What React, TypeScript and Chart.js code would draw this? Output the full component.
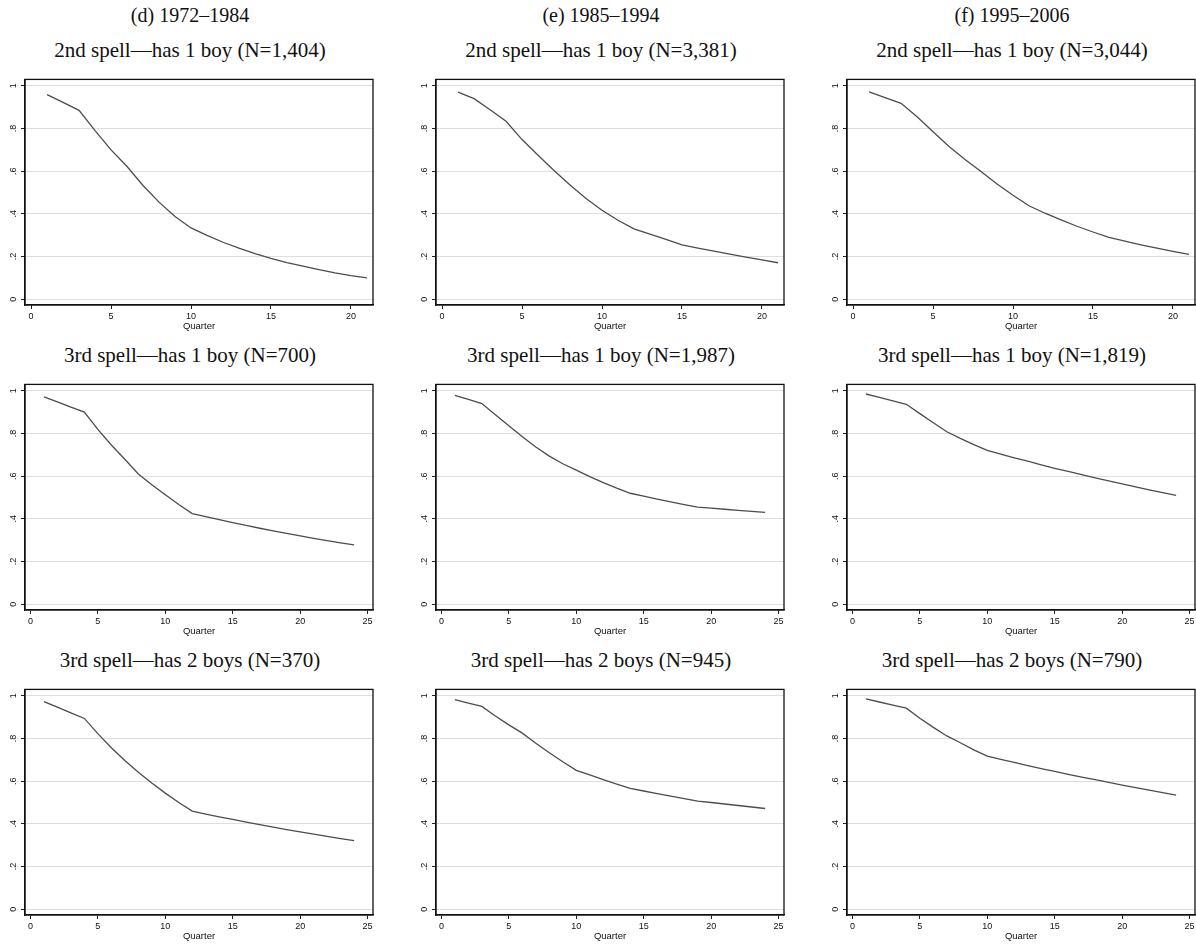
import React, { useEffect, useRef } from 'react';
import { Chart, registerables } from 'chart.js';

Chart.register(...registerables);

// ---------- data ----------
const columnHeaders = ['(d) 1972–1984', '(e) 1985–1994', '(f) 1995–2006'];

const panelTitles = [
  ['2nd spell—has 1 boy (N=1,404)', '2nd spell—has 1 boy (N=3,381)', '2nd spell—has 1 boy (N=3,044)'],
  ['3rd spell—has 1 boy (N=700)', '3rd spell—has 1 boy (N=1,987)', '3rd spell—has 1 boy (N=1,819)'],
  ['3rd spell—has 2 boys (N=370)', '3rd spell—has 2 boys (N=945)', '3rd spell—has 2 boys (N=790)'],
];

const quarters21 = [1, 2, 3, 4, 5, 6, 7, 8, 9, 10, 11, 12, 13, 14, 15, 16, 17, 18, 19, 20, 21];
const quarters24 = [1, 2, 3, 4, 5, 6, 7, 8, 9, 10, 11, 12, 13, 14, 15, 16, 17, 18, 19, 20, 21, 22, 23, 24];

const xTicks21 = [0, 5, 10, 15, 20];
const xTicks25 = [0, 5, 10, 15, 20, 25];
const yTicks = [0, 0.2, 0.4, 0.6, 0.8, 1];
const yTickLabels = ['0', '.2', '.4', '.6', '.8', '1'];
const xAxisTitle = 'Quarter';

// row 1: 2nd spell, has 1 boy
const spell2Boy1_7284 = [0.959, 0.922, 0.885, 0.79, 0.7, 0.622, 0.533, 0.455, 0.388, 0.334, 0.299, 0.267, 0.239, 0.214, 0.192, 0.172, 0.155, 0.139, 0.124, 0.111, 0.1];
const spell2Boy1_8594 = [0.97, 0.94, 0.888, 0.834, 0.748, 0.675, 0.603, 0.535, 0.472, 0.417, 0.37, 0.33, 0.305, 0.28, 0.255, 0.24, 0.225, 0.211, 0.197, 0.184, 0.171];
const spell2Boy1_9506 = [0.972, 0.945, 0.918, 0.855, 0.785, 0.716, 0.655, 0.598, 0.54, 0.487, 0.438, 0.403, 0.372, 0.342, 0.315, 0.29, 0.272, 0.255, 0.239, 0.224, 0.21];

// row 2: 3rd spell, has 1 boy
const spell3Boy1_7284 = [0.972, 0.948, 0.924, 0.9, 0.819, 0.746, 0.679, 0.61, 0.56, 0.513, 0.467, 0.425, 0.41, 0.396, 0.382, 0.369, 0.356, 0.344, 0.332, 0.32, 0.309, 0.298, 0.288, 0.278];
const spell3Boy1_8594 = [0.978, 0.96, 0.94, 0.888, 0.836, 0.785, 0.737, 0.694, 0.658, 0.628, 0.598, 0.57, 0.544, 0.52, 0.506, 0.493, 0.48, 0.467, 0.455, 0.45, 0.445, 0.44, 0.435, 0.43];
const spell3Boy1_9506 = [0.985, 0.969, 0.953, 0.937, 0.893, 0.85, 0.808, 0.777, 0.748, 0.721, 0.703, 0.686, 0.67, 0.653, 0.637, 0.622, 0.607, 0.592, 0.578, 0.564, 0.55, 0.536, 0.523, 0.51];

// row 3: 3rd spell, has 2 boys
const spell3Boys2_7284 = [0.973, 0.947, 0.92, 0.894, 0.823, 0.757, 0.697, 0.642, 0.591, 0.544, 0.5, 0.46, 0.446, 0.433, 0.421, 0.408, 0.396, 0.385, 0.373, 0.362, 0.352, 0.341, 0.331, 0.321];
const spell3Boys2_8594 = [0.982, 0.966, 0.95, 0.905, 0.864, 0.825, 0.778, 0.733, 0.691, 0.651, 0.629, 0.607, 0.586, 0.566, 0.554, 0.542, 0.53, 0.518, 0.507, 0.5, 0.493, 0.486, 0.479, 0.472];
const spell3Boys2_9506 = [0.986, 0.971, 0.956, 0.942, 0.895, 0.852, 0.812, 0.78, 0.747, 0.717, 0.702, 0.688, 0.673, 0.659, 0.646, 0.632, 0.619, 0.607, 0.594, 0.582, 0.57, 0.558, 0.546, 0.535];

const seriesGrid = [
  [spell2Boy1_7284, spell2Boy1_8594, spell2Boy1_9506],
  [spell3Boy1_7284, spell3Boy1_8594, spell3Boy1_9506],
  [spell3Boys2_7284, spell3Boys2_8594, spell3Boys2_9506],
];

// ---------- layout ----------
const FRAME_LEFT = [25, 436, 847];
const FRAME_TOP = [72, 377, 682];
const FRAME_W = 348;
const FRAME_H = 233;
const Y_AXIS_W = 25;
const X_AXIS_H = 32;
const PAD_TOP = 2;
const PAD_RIGHT = 8;
const CANVAS_W = Y_AXIS_W + FRAME_W + PAD_RIGHT;
const CANVAS_H = PAD_TOP + FRAME_H + X_AXIS_H;

const SANS = 'Liberation Sans, Arial, sans-serif';
const SERIF = '"Liberation Serif", "Times New Roman", serif';

const framePlugin = {
  id: 'stataFrame',
  afterDatasetsDraw(chart: any) {
    const { ctx, chartArea: a } = chart;
    ctx.save();
    ctx.strokeStyle = '#111';
    ctx.lineWidth = 1.3;
    ctx.strokeRect(a.left, a.top, a.right - a.left, a.bottom - a.top);
    ctx.restore();
  },
};

function Panel({ row, col }: { row: number; col: number }) {
  const ref = useRef<HTMLCanvasElement | null>(null);

  useEffect(() => {
    if (!ref.current) return;
    const xs = row === 0 ? quarters21 : quarters24;
    const ys = seriesGrid[row][col];
    const xTicks = row === 0 ? xTicks21 : xTicks25;
    const chart = new Chart(ref.current, {
      type: 'line',
      data: {
        datasets: [
          {
            data: xs.map((x, i) => ({ x, y: ys[i] })),
            borderColor: '#4d4d4d',
            borderWidth: 1.3,
            pointRadius: 0,
            tension: 0,
            fill: false,
          },
        ],
      },
      options: {
        animation: false,
        responsive: false,
        devicePixelRatio: 1,
        layout: { padding: { top: PAD_TOP, right: PAD_RIGHT, left: 0, bottom: 0 } },
        plugins: {
          legend: { display: false },
          tooltip: { enabled: false },
          title: { display: false },
        },
        scales: {
          x: {
            type: 'linear',
            min: row === 0 ? -0.38 : -0.4,
            max: row === 0 ? 21.38 : 25.4,
            afterBuildTicks: (s: any) => {
              s.ticks = xTicks.map((v) => ({ value: v }));
            },
            afterFit: (s: any) => {
              s.height = X_AXIS_H;
            },
            grid: { drawOnChartArea: false, drawTicks: true, tickLength: 4, tickColor: '#222', lineWidth: 1 },
            border: { display: true, color: '#111', width: 1.3 },
            ticks: {
              font: { family: SANS, size: 9 },
              color: '#111',
              padding: 2,
              maxRotation: 0,
              minRotation: 0,
              autoSkip: false,
            },
            title: {
              display: true,
              text: xAxisTitle,
              font: { family: SANS, size: 9.5 },
              color: '#111',
              padding: { top: 0, bottom: 5 },
            },
          },
          y: {
            type: 'linear',
            min: -0.027,
            max: 1.03,
            afterBuildTicks: (s: any) => {
              s.ticks = yTicks.map((v) => ({ value: v }));
            },
            afterFit: (s: any) => {
              s.width = Y_AXIS_W;
            },
            grid: { color: '#dedede', lineWidth: 1, tickColor: '#222', tickLength: 4, drawTicks: true },
            border: { display: true, color: '#111', width: 1.3 },
            ticks: {
              font: { family: SANS, size: 9 },
              color: '#111',
              padding: 4,
              minRotation: 90,
              maxRotation: 90,
              crossAlign: 'center',
              autoSkip: false,
              callback: (_v: any, i: number) => yTickLabels[i],
            },
          },
        },
      } as any,
      plugins: [framePlugin],
    });
    return () => chart.destroy();
  }, [row, col]);

  return (
    <canvas
      ref={ref}
      width={CANVAS_W}
      height={CANVAS_H}
      style={{
        position: 'absolute',
        left: FRAME_LEFT[col] - Y_AXIS_W,
        top: FRAME_TOP[row] - PAD_TOP,
        width: CANVAS_W,
        height: CANVAS_H,
      }}
    />
  );
}

function Label({ text, cx, cy, size }: { text: string; cx: number; cy: number; size: number }) {
  const lh = Math.round(size * 1.2);
  return (
    <div
      style={{
        position: 'absolute',
        left: cx - 200,
        width: 400,
        top: cy - lh / 2,
        height: lh,
        lineHeight: lh + 'px',
        textAlign: 'center',
        fontFamily: SERIF,
        fontSize: size,
        color: '#111',
        whiteSpace: 'nowrap',
      }}
    >
      {text}
    </div>
  );
}

export default function App() {
  const cells = [];
  for (let r = 0; r < 3; r++) {
    for (let c = 0; c < 3; c++) {
      cells.push(<Panel key={`p${r}${c}`} row={r} col={c} />);
      cells.push(
        <Label
          key={`t${r}${c}`}
          text={panelTitles[r][c]}
          cx={FRAME_LEFT[c] + FRAME_W / 2 - 9}
          cy={FRAME_TOP[r] - 21.5}
          size={21}
        />
      );
    }
  }
  return (
    <div
      style={{
        position: 'absolute',
        left: 0,
        top: 0,
        width: 1196,
        height: 944,
        overflow: 'hidden',
        background: '#fff',
      }}
    >
      {columnHeaders.map((h, c) => (
        <Label key={`h${c}`} text={h} cx={FRAME_LEFT[c] + FRAME_W / 2 - 9} cy={15} size={20} />
      ))}
      {cells}
    </div>
  );
}
